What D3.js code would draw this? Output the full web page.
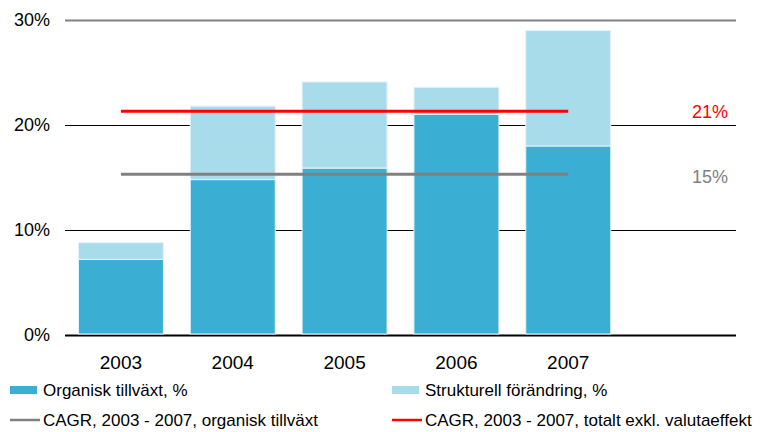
<!DOCTYPE html>
<html>
<head>
<meta charset="utf-8">
<script src="https://cdn.jsdelivr.net/npm/d3@7"></script>
<style>
  body { margin: 0; background: #fff; }
  svg { display: block; font-family: 'Liberation Sans', Arial, sans-serif; }
</style>
</head>
<body>
<div id="chart"></div>
<script>
const years = ['2003', '2004', '2005', '2006', '2007'];
const organic = [7.2, 14.8, 15.9, 21.0, 18.0];
const structural = [1.6, 7.0, 8.2, 2.6, 11.0];
const cagrTotal = 21.3;
const cagrOrganic = 15.3;
const yTicks = [0, 10, 20, 30];

const width = 768;
const height = 432;
const margin = {top: 20, right: 32, bottom: 97, left: 65};
const innerWidth = width - margin.left - margin.right;
const innerHeight = height - margin.top - margin.bottom;

const darkBlue = '#3aafd3';
const lightBlue = '#a9dcea';
const red = '#ff0000';
const grey = '#808080';

// 6 bands, the last one is left empty for the labels
const xScale = d3.scaleBand()
    .domain(years.concat(['']))
    .range([0, innerWidth])
    .paddingInner(0.24)
    .paddingOuter(0.12);

const yScale = d3.scaleLinear()
    .domain([0, 30])
    .range([innerHeight, 0]);

const svg = d3.select('#chart')
  .append('svg')
    .attr('width', width)
    .attr('height', height);

const g = svg.append('g')
    .attr('transform', `translate(${margin.left},${margin.top})`);

// gridlines
g.selectAll('.grid')
  .data(yTicks)
  .join('line')
    .attr('x1', 0)
    .attr('x2', innerWidth)
    .attr('y1', d => Math.round(yScale(d)) + 0.5)
    .attr('y2', d => Math.round(yScale(d)) + 0.5)
    .attr('stroke', d => d === 30 ? grey : '#000')
    .attr('stroke-width', d => d === 0 ? 2 : (d === 30 ? 2 : 1));

// y tick labels
g.selectAll('.ylab')
  .data(yTicks)
  .join('text')
    .attr('x', -15)
    .attr('y', d => yScale(d))
    .attr('dy', '0.35em')
    .attr('text-anchor', 'end')
    .style('font-size', '18px')
    .attr('fill', '#000')
    .text(d => d + '%');

const stacked = years.map((y, i) => ({year: y, org: organic[i], str: structural[i]}));

// organic part
g.selectAll('.org')
  .data(stacked)
  .join('rect')
    .attr('x', d => xScale(d.year))
    .attr('width', xScale.bandwidth())
    .attr('y', d => yScale(d.org))
    .attr('height', d => yScale(0) - yScale(d.org) - 1)
    .attr('fill', darkBlue)
    .attr('stroke', '#e6f5fa')
    .attr('stroke-width', 1);

// structural part
g.selectAll('.str')
  .data(stacked)
  .join('rect')
    .attr('x', d => xScale(d.year))
    .attr('width', xScale.bandwidth())
    .attr('y', d => yScale(d.org + d.str))
    .attr('height', d => yScale(d.org) - yScale(d.org + d.str))
    .attr('fill', lightBlue)
    .attr('stroke', '#e6f5fa')
    .attr('stroke-width', 1);

// x labels
g.selectAll('.xlab')
  .data(years)
  .join('text')
    .attr('x', d => xScale(d) + xScale.bandwidth() / 2)
    .attr('y', innerHeight + 34)
    .attr('text-anchor', 'middle')
    .style('font-size', '19px')
    .attr('fill', '#000')
    .text(d => d);

// CAGR lines
const xFirst = xScale(years[0]) + xScale.bandwidth() / 2;
const xLast = xScale(years[years.length - 1]) + xScale.bandwidth() / 2;

g.append('line')
    .attr('x1', xFirst).attr('x2', xLast)
    .attr('y1', yScale(cagrOrganic)).attr('y2', yScale(cagrOrganic))
    .attr('stroke', grey)
    .attr('stroke-width', 3);

g.append('line')
    .attr('x1', xFirst).attr('x2', xLast)
    .attr('y1', yScale(cagrTotal)).attr('y2', yScale(cagrTotal))
    .attr('stroke', red)
    .attr('stroke-width', 3);

g.append('text')
    .attr('x', innerWidth - 8)
    .attr('y', yScale(cagrTotal) + 7)
    .attr('text-anchor', 'end')
    .style('font-size', '18px')
    .attr('fill', red)
    .text(Math.round(cagrTotal) + '%');

g.append('text')
    .attr('x', innerWidth - 8)
    .attr('y', yScale(cagrOrganic) + 9)
    .attr('text-anchor', 'end')
    .style('font-size', '18px')
    .attr('fill', grey)
    .text(Math.round(cagrOrganic) + '%');

// legend
const legendItems = [
  {label: 'Organisk tillväxt, %', type: 'rect', color: darkBlue, x: 10, y: 390},
  {label: 'Strukturell förändring, %', type: 'rect', color: lightBlue, x: 392, y: 390},
  {label: 'CAGR, 2003 - 2007, organisk tillväxt', type: 'line', color: grey, x: 10, y: 420},
  {label: 'CAGR, 2003 - 2007, totalt exkl. valutaeffekt', type: 'line', color: red, x: 392, y: 420}
];

const legend = svg.selectAll('.legend')
  .data(legendItems)
  .join('g')
    .attr('transform', d => `translate(${d.x},${d.y})`);

legend.filter(d => d.type === 'rect')
  .append('rect')
    .attr('x', 0)
    .attr('y', -4)
    .attr('width', 27)
    .attr('height', 8)
    .attr('fill', d => d.color);

legend.filter(d => d.type === 'line')
  .append('line')
    .attr('x1', 0).attr('x2', 30)
    .attr('y1', 0).attr('y2', 0)
    .attr('stroke', d => d.color)
    .attr('stroke-width', 2.5);

legend.append('text')
    .attr('x', 33)
    .attr('y', 0)
    .attr('dy', '0.35em')
    .style('font-size', '17px')
    .attr('fill', '#000')
    .text(d => d.label);
</script>
</body>
</html>
